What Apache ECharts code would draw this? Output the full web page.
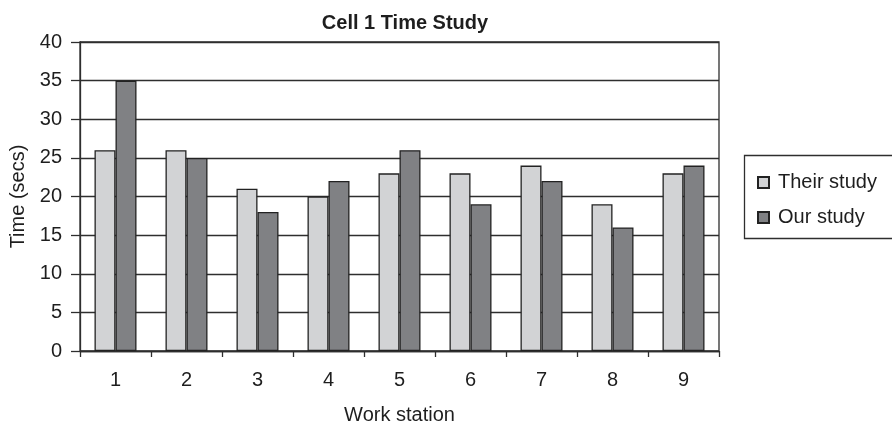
<!DOCTYPE html>
<html>
<head>
<meta charset="utf-8">
<script src="https://cdn.jsdelivr.net/npm/echarts@6/dist/echarts.min.js"></script>
<style>
  html, body { margin: 0; padding: 0; background: #fff; }
  #chart { width: 892px; height: 430px; }
</style>
</head>
<body>
<div id="chart"></div>
<script>
// Work stations along the x axis
const stations = ['1', '2', '3', '4', '5', '6', '7', '8', '9'];
// Measured times per station (seconds)
const theirStudy = [26, 26, 21, 20, 23, 23, 24, 19, 23];
const ourStudy = [35, 25, 18, 22, 26, 19, 22, 16, 24];
// Value axis range
const yMin = 0;
const yMax = 40;
const yStep = 5;

const FONT = '"Liberation Sans", Arial, Helvetica, sans-serif';
const INK = '#1e1e1e';
const LINE = '#2e2e2e';

const chart = echarts.init(document.getElementById('chart'), null, { renderer: 'canvas' });

chart.setOption({
  animation: false,
  backgroundColor: '#fff',
  textStyle: { fontFamily: FONT, color: INK },
  title: {
    text: 'Cell 1 Time Study',
    left: 400,
    top: 8,
    textAlign: 'center',
    textStyle: { fontFamily: FONT, fontSize: 20, fontWeight: 'bold', color: INK }
  },
  graphic: [{
    type: 'rect',
    left: 742,
    top: 153,
    shape: { width: 149, height: 83 },
    style: { fill: 'none', stroke: LINE, lineWidth: 1.3 },
    silent: true
  }],
  legend: {
    orient: 'vertical',
    left: 752,
    top: 167,
    itemWidth: 11,
    itemHeight: 11,
    itemGap: 14,
    icon: 'rect',
    textStyle: { fontFamily: FONT, fontSize: 20, color: INK, lineHeight: 21, padding: [0, 0, 0, 4] },
    data: ['Their study', 'Our study']
  },
  grid: {
    left: 80,
    top: 42,
    right: 173,
    bottom: 72,
    show: true,
    borderColor: LINE,
    borderWidth: 1.3,
    containLabel: false
  },
  xAxis: {
    type: 'category',
    data: stations,
    name: 'Work station',
    nameLocation: 'middle',
    nameGap: 54,
    nameTextStyle: { fontFamily: FONT, fontSize: 20, color: INK },
    axisLine: { lineStyle: { color: LINE, width: 1.3 } },
    axisTick: { show: true, length: 6, lineStyle: { color: LINE, width: 1.3 }, alignWithLabel: false },
    axisLabel: { fontFamily: FONT, fontSize: 20, color: INK, margin: 19 },
    splitLine: { show: false }
  },
  yAxis: {
    type: 'value',
    min: yMin,
    max: yMax,
    interval: yStep,
    name: 'Time (secs)',
    nameLocation: 'middle',
    nameGap: 52,
    nameRotate: 90,
    nameTextStyle: { fontFamily: FONT, fontSize: 20, color: INK },
    axisLine: { show: true, lineStyle: { color: LINE, width: 1.3 } },
    axisTick: { show: true, length: 9, lineStyle: { color: LINE, width: 1.3 } },
    axisLabel: { fontFamily: FONT, fontSize: 20, color: INK, margin: 18 },
    splitLine: { show: true, lineStyle: { color: LINE, width: 1.3 } }
  },
  series: [
    {
      name: 'Their study',
      type: 'bar',
      data: theirStudy,
      barWidth: 21,
      barGap: '0%',
      itemStyle: { color: '#d2d3d5', borderColor: '#222', borderWidth: 1.3 }
    },
    {
      name: 'Our study',
      type: 'bar',
      data: ourStudy,
      barWidth: 21,
      barGap: '0%',
      itemStyle: { color: '#808184', borderColor: '#222', borderWidth: 1.3 }
    }
  ]
});
</script>
</body>
</html>
